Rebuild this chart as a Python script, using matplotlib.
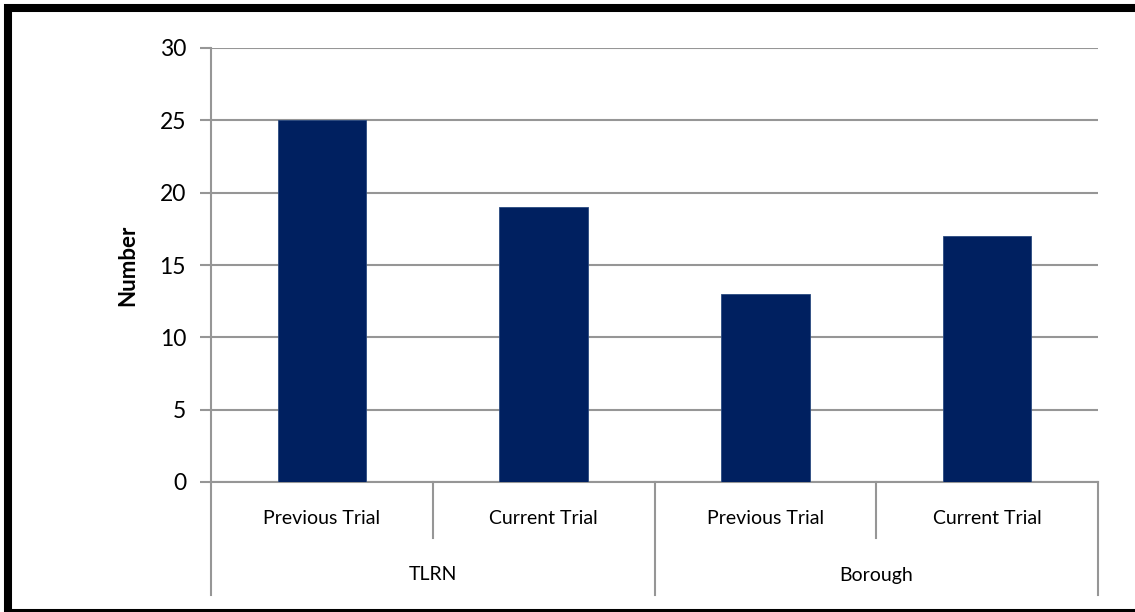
import matplotlib
matplotlib.use("Agg")
import matplotlib.pyplot as plt
import matplotlib.transforms as mtransforms
import numpy as np

# Trial counts by road network
groups = ["TLRN", "Borough"]
trials = ["Previous Trial", "Current Trial"]
values = [25, 19, 13, 17]

yticks = [0, 5, 10, 15, 20, 25, 30]

plt.rcParams["font.family"] = ["Lato", "DejaVu Sans"]

W, H = 1135, 612
fig = plt.figure(figsize=(W / 100, H / 100), dpi=100)
ax = fig.add_axes([211 / W, 1 - 482 / H, (1098 - 211) / W, (482 - 48) / H])

grey = "#969696"
x = np.arange(len(values))
ax.bar(x, values, width=0.4, color="#002060", edgecolor="#2a4a80", linewidth=0.6, zorder=3)

ax.set_xlim(-0.5, len(values) - 0.5)
ax.set_ylim(0, 30)
ax.set_yticks(yticks)
ax.set_xticks([])
ax.yaxis.grid(True, color=grey, linewidth=1.5)
ax.set_axisbelow(True)
for side in ["top", "right", "left"]:
    ax.spines[side].set_visible(False)
ax.spines["bottom"].set_color(grey)
ax.spines["bottom"].set_linewidth(1.5)
ax.tick_params(axis="y", length=8, width=1.5, color=grey, labelsize=16.5, pad=10)

ax.set_ylabel("Number", fontsize=16, fontweight="bold", labelpad=15)

# multi-level category axis
trans = mtransforms.blended_transform_factory(ax.transData, ax.transAxes)
short_y = -56 / 434
long_y = -113 / 434
ax.plot([-0.5, -0.5], [long_y, 1], transform=trans, color=grey, lw=1.5, clip_on=False)
for i in range(len(values)):
    edge = i + 0.5
    bottom = long_y if (i + 1) % len(trials) == 0 else short_y
    ax.plot([edge, edge], [0, bottom], transform=trans, color=grey, lw=1.5, clip_on=False)
    ax.text(i, -37 / 434, trials[i % len(trials)], transform=trans,
            ha="center", va="center", fontsize=14)
for g, name in enumerate(groups):
    center = g * len(trials) + (len(trials) - 1) / 2
    ax.text(center, -93 / 434, name, transform=trans,
            ha="center", va="center", fontsize=14)

# outer chart frame
frame = plt.Rectangle((8 / W, -1 / H), 1.05, 1 - 8 / H + 1 / H, transform=fig.transFigure,
                      fill=False, edgecolor="black", linewidth=5.8, clip_on=False)
fig.add_artist(frame)

fig.savefig("out.png", dpi=100)
